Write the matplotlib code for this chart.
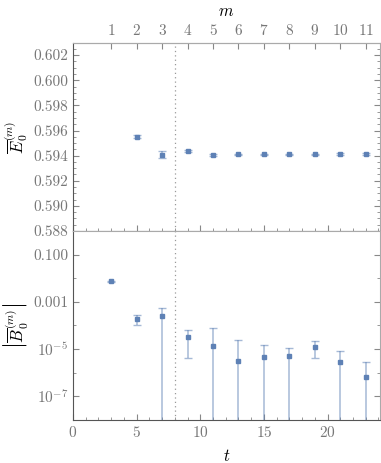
import matplotlib
matplotlib.use("Agg")
import matplotlib.pyplot as plt
import matplotlib.ticker as mticker
import numpy as np

plt.rcParams['font.family'] = ['cmr10', 'DejaVu Serif']
plt.rcParams['mathtext.fontset'] = 'cm'
plt.rcParams['axes.formatter.use_mathtext'] = True

# top panel: ground-state energy per m (t = 2m + 1)
m_vals = [2, 3, 4, 5, 6, 7, 8, 9, 10, 11]
e_vals = [0.59552, 0.59408, 0.59434, 0.59405, 0.59410, 0.59410, 0.59410, 0.59410, 0.59413, 0.59413]
e_errs = [0.00012, 0.00030, 0.00008, 0.00010, 0.00007, 0.00006, 0.00006, 0.00006, 0.00006, 0.00006]

# bottom panel: |B_0| versus t
t_vals = [3, 5, 7, 9, 11, 13, 15, 17, 19, 21, 23]
b_vals = [7.3e-3, 1.95e-4, 2.5e-4, 3.3e-5, 1.35e-5, 3.1e-6, 4.6e-6, 5.3e-6, 1.26e-5, 2.9e-6, 6.6e-7]
b_errs = [4e-4, 0.9e-4, 3.2e-4, 2.9e-5, 6.8e-5, 2.1e-5, 9.8e-6, 5.7e-6, 8.5e-6, 5.8e-6, 2.3e-6]

m_ticks = list(range(1, 12))
b_ticks = [1e-1, 1e-3, 1e-5, 1e-7]
b_ticklabels = ['0.100', '0.001', r'$10^{-5}$', r'$10^{-7}$']

col = '#5E81B5'
ecol = (0.368, 0.507, 0.710, 0.55)
tick_col = '#777777'


def t_of_m(m):
    return 2 * np.asarray(m) + 1


def m_of_t(t):
    return (np.asarray(t) - 1) / 2


def style(ax):
    ax.tick_params(which='both', direction='in', colors='#888888', labelcolor=tick_col,
                   labelsize=11, right=True)
    ax.tick_params(which='major', length=4)
    ax.tick_params(which='minor', length=2)
    for s in ['left', 'bottom']:
        ax.spines[s].set_color('#555555')
    for s in ['right', 'top']:
        ax.spines[s].set_color('#aaaaaa')
    ax.axvline(8, color='#999999', ls=(0, (1, 2.5)), lw=0.9)
    ax.set_xlim(0, 24.1)
    ax.xaxis.set_major_locator(mticker.MultipleLocator(5))
    ax.xaxis.set_minor_locator(mticker.MultipleLocator(1))


fig = plt.figure(figsize=(3.81, 4.63), dpi=100)
ax1 = fig.add_axes([0.1916, 0.501, 0.805, 0.406])
ax2 = fig.add_axes([0.1916, 0.093, 0.805, 0.408])

# top panel
style(ax1)
ax1.errorbar(t_of_m(m_vals), e_vals, yerr=e_errs, fmt='s', ms=3.5, color=col,
             ecolor=ecol, elinewidth=1.1, capsize=3, capthick=1.0)
ax1.set_ylim(0.588, 0.60296)
ax1.yaxis.set_major_locator(mticker.MultipleLocator(0.002))
ax1.yaxis.set_minor_locator(mticker.MultipleLocator(0.0005))
ax1.yaxis.set_major_formatter(mticker.FormatStrFormatter('%.3f'))
ax1.tick_params(axis='x', labelbottom=False)
ax1.set_ylabel(r'$\overline{E}_0^{(m)}$', fontsize=12, labelpad=2)

sec = ax1.secondary_xaxis('top', functions=(m_of_t, t_of_m))
sec.set_xticks(m_ticks)
sec.xaxis.set_minor_locator(mticker.NullLocator())
sec.tick_params(direction='in', length=4, colors='#888888', labelcolor=tick_col, labelsize=11)
sec.spines['top'].set_color('#aaaaaa')
sec.set_xlabel(r'$m$', fontsize=12, labelpad=5)

# bottom panel
style(ax2)
ax2.set_yscale('log')
ax2.errorbar(t_vals, b_vals, yerr=b_errs, fmt='s', ms=3.5, color=col,
             ecolor=ecol, elinewidth=1.1, capsize=3, capthick=1.0)
ax2.set_ylim(1e-8, 1.0)
ax2.set_yticks(b_ticks)
ax2.set_yticklabels(b_ticklabels)
ax2.yaxis.set_minor_locator(mticker.FixedLocator([1.0, 1e-2, 1e-4, 1e-6, 1e-8]))
ax2.yaxis.set_minor_formatter(mticker.NullFormatter())
ax2.set_xlabel(r'$t$', fontsize=12, labelpad=6)
ax2.set_ylabel(r'$\left|\overline{B}_0^{(m)}\right|$', fontsize=12, labelpad=2)

fig.savefig('out.png', dpi=100)
